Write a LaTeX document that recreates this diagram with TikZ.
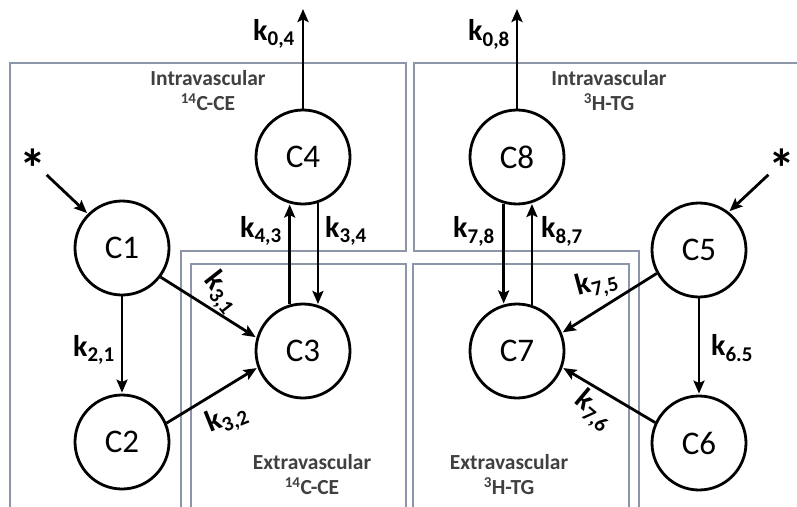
\documentclass[tikz,border=0pt]{standalone}
\usepackage{fontspec}
\setmainfont{Carlito}
\usetikzlibrary{arrows.meta}
\definecolor{boxline}{RGB}{140,150,168}
\definecolor{boxtext}{RGB}{64,64,64}

\begin{document}
\begin{tikzpicture}[x=1pt,y=-1pt,
	comp/.style={circle, draw, line width=2.8pt, minimum size=94pt, inner sep=0pt, font=\fontsize{33}{33}\selectfont},
	flow/.style={line width=2.8pt, shorten >=1pt, -{Stealth[length=13pt,width=11pt,inset=2.5pt]}},
	rate/.style={inner sep=0pt, font=\fontsize{30}{30}\selectfont\bfseries},
	dose/.style={inner sep=0pt, text height=51pt, text depth=-29pt, font=\fontsize{54}{54}\selectfont\bfseries},
	region/.style={draw=boxline, line width=1.4pt},
	regtext/.style={align=center, inner sep=0pt, text=boxtext, font=\fontsize{21.5}{25}\selectfont\bfseries}]
	\useasboundingbox (0,0) rectangle (797,506);
	\clip (0,0) rectangle (797,506);
	% compartments boundaries
	\draw[region] (10,520) -- (10,63) -- (406,63) -- (406,251) -- (181,251) -- (181,520);
	\draw[region] (810,63) -- (414,63) -- (414,251) -- (639,251) -- (639,520);
	\draw[region] (191,520) -- (191,264) -- (406,264) -- (406,520);
	\draw[region] (413,520) -- (413,264) -- (629,264) -- (629,520);
	\node (ivCE) at (208, 91)	[regtext]	{Intravascular\\\textsuperscript{14}C-CE};
	\node (ivTG) at (609, 91)	[regtext]	{Intravascular\\\textsuperscript{3}H-TG};
	\node (evCE) at (312, 475)	[regtext]	{Extravascular\\\textsuperscript{14}C-CE};
	\node (evTG) at (509, 475)	[regtext]	{Extravascular\\\textsuperscript{3}H-TG};
	% pools
	\node (C1) at (122, 248)	[comp]	{C1};
	\node (C2) at (122, 442)	[comp]	{C2};
	\node (C3) at (303, 351)	[comp]	{C3};
	\node (C4) at (303, 157)	[comp]	{C4};
	\node (C5) at (699, 250)	[comp]	{C5};
	\node (C6) at (699, 443)	[comp]	{C6};
	\node (C7) at (517, 351)	[comp]	{C7};
	\node (C8) at (517, 157)	[comp]	{C8};
	\node (starL) at (33, 162)	[dose]	{*};
	\node (starR) at (782, 162)	[dose]	{*};
	\coordinate (out4) at (303, 8);
	\coordinate (out8) at (517, 8);
	% transfers
	\draw[flow] (starL) -- (C1.135);
	\draw[flow] (starR) -- (C5.52);
	\draw[flow] (C4) -- (out4);
	\draw[flow] (C8) -- (out8);
	\draw[flow] (C3.106) -- (C4.254);
	\draw[flow] (C4.288) -- (C3.72);
	\draw[flow] (C8.254) -- (C7.106);
	\draw[flow] (C7.72) -- (C8.288);
	\draw[flow] (C1) -- (C2);
	\draw[flow] (C1.323) -- (C3.164);
	\draw[flow] (C2.23) -- (C3.200);
	\draw[flow] (C5) -- (C6);
	\draw[flow] (C5.209) -- (C7.22);
	\draw[flow] (C6.155) -- (C7.340);
	% rate constants
	\node (k04) at (274, 34)	[rate]	{k\textsubscript{0,4}};
	\node (k08) at (489, 34)	[rate]	{k\textsubscript{0,8}};
	\node (k43) at (261, 231)	[rate]	{k\textsubscript{4,3}};
	\node (k34) at (346, 231)	[rate]	{k\textsubscript{3,4}};
	\node (k78) at (474, 231)	[rate]	{k\textsubscript{7,8}};
	\node (k87) at (562, 231)	[rate]	{k\textsubscript{8,7}};
	\node (k21) at (94, 350)	[rate]	{k\textsubscript{2,1}};
	\node (k65) at (732, 348)	[rate]	{k\textsubscript{6.5}};
	\node (k31) at (221, 293)	[rate, rotate=-52]	{k\textsubscript{3,1}};
	\node (k32) at (227, 419)	[rate, rotate=22]	{k\textsubscript{3,2}};
	\node (k75) at (597, 284)	[rate, rotate=15]	{k\textsubscript{7,5}};
	\node (k76) at (593, 411)	[rate, rotate=-40]	{k\textsubscript{7,6}};
\end{tikzpicture}
\end{document}
